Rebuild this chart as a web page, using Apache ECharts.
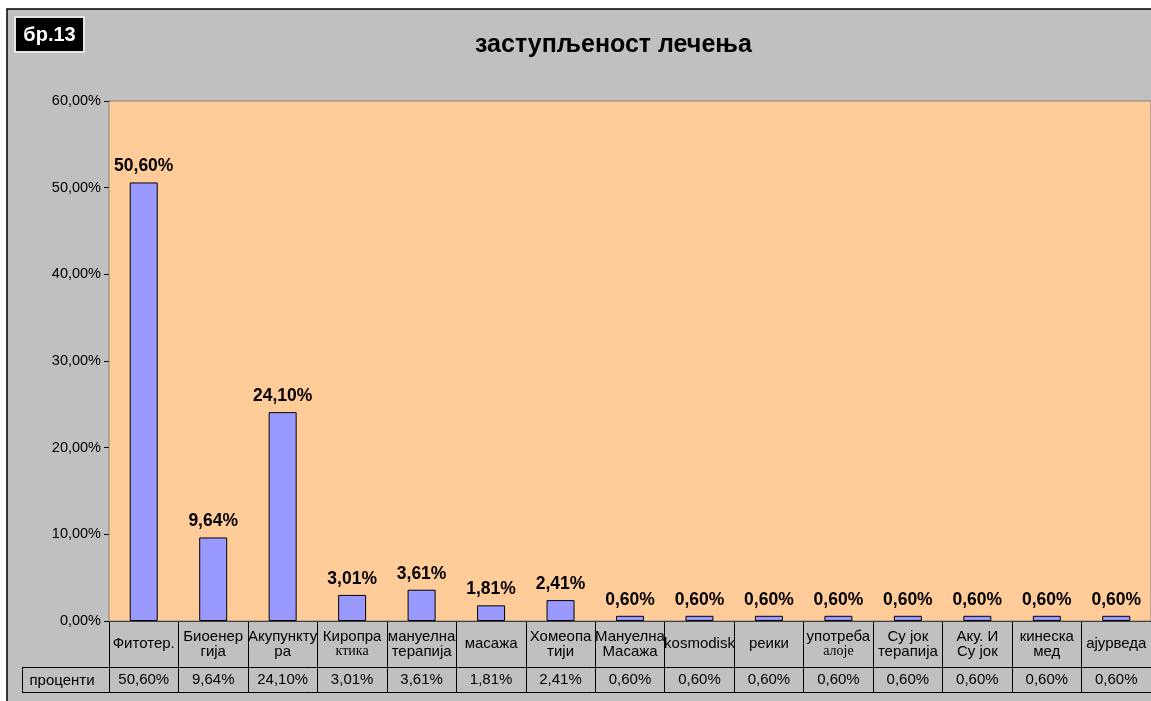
<!DOCTYPE html>
<html>
<head>
<meta charset="utf-8">
<title>заступљеност лечења</title>
<script src="https://cdn.jsdelivr.net/npm/echarts@6/dist/echarts.min.js"></script>
<style>
	body { margin: 0; background: #fff; }
	#main { width: 1151px; height: 701px; }
</style>
</head>
<body>
<div id="main"></div>
<script>
	// podaci
	var categories = ['Фитотер.', 'Биоенер\nгија', 'Акупункту\nра', 'Киропра\nктика', 'мануелна\nтерапија',
		'масажа', 'Хомеопа\nтији', 'Мануелна\nМасажа', 'kosmodisk', 'реики', 'употреба\nалоје',
		'Су јок\nтерапија', 'Аку. И\nСу јок', 'кинеска\nмед', 'ајурведа'];
	var values = [50.60, 9.64, 24.10, 3.01, 3.61, 1.81, 2.41, 0.60, 0.60, 0.60, 0.60, 0.60, 0.60, 0.60, 0.60];
	var rowName = 'проценти';
	// drugi red natpisa je u serifnom fontu
	var serifSecondLine = ['Киропра\nктика', 'употреба\nалоје'];

	var font = '"Liberation Sans", Arial, sans-serif';

	function pct(v) {
		return v.toFixed(2).replace('.', ',') + '%';
	}
	var valueLabels = values.map(pct);

	var myChart = echarts.init(document.getElementById('main'));
	var option = {
		animation: false,
		textStyle: { fontFamily: font },
		title: {
			text: 'заступљеност лечења',
			left: 470,
			top: 28,
			textStyle: { fontFamily: font, fontSize: 25, fontWeight: 'bold', color: '#000' }
		},
		grid: {
			left: 109,
			top: 101,
			width: 1044,
			height: 520,
			show: true,
			backgroundColor: '#FFCC99',
			borderColor: '#808080',
			borderWidth: 1,
			z: 1
		},
		xAxis: [{
			type: 'category',
			data: categories,
			position: 'bottom',
			axisLine: { lineStyle: { color: '#000', width: 1 } },
			axisTick: { show: true, length: 71, lineStyle: { color: '#000', width: 1 } },
			axisLabel: {
				interval: 0,
				margin: 23,
				verticalAlign: 'middle',
				fontSize: 15,
				lineHeight: 15,
				color: '#000',
				fontFamily: font,
				formatter: function (v) {
					if (serifSecondLine.indexOf(v) >= 0) {
						var p = v.split('\n');
						return p[0] + '\n{s|' + p[1] + '}';
					}
					return v;
				},
				rich: {
					s: { fontFamily: '"Liberation Serif", serif', fontSize: 14, lineHeight: 15, color: '#000' }
				}
			}
		}, {
			type: 'category',
			data: valueLabels,
			position: 'bottom',
			offset: 46,
			axisLine: { show: false },
			axisTick: { show: false },
			axisLabel: {
				interval: 0,
				margin: 13,
				verticalAlign: 'middle',
				fontSize: 15,
				color: '#000',
				fontFamily: font
			}
		}],
		yAxis: {
			type: 'value',
			min: 0,
			max: 60,
			interval: 10,
			axisLine: { show: true, lineStyle: { color: '#000' } },
			axisTick: { show: true, length: 5, lineStyle: { color: '#000' } },
			axisLabel: {
				margin: 8,
				fontSize: 14.5,
				color: '#000',
				fontFamily: font,
				formatter: pct
			},
			splitLine: { lineStyle: { color: '#000', width: 1 } }
		},
		series: [{
			type: 'bar',
			data: values,
			barWidth: 28,
			itemStyle: { color: '#9999FF', borderColor: '#000', borderWidth: 1 },
			label: {
				show: true,
				position: 'top',
				distance: 7,
				fontSize: 17.5,
				fontWeight: 'bold',
				color: '#000',
				fontFamily: font,
				formatter: function (p) { return pct(p.value); }
			}
		}],
		graphic: [
			{ type: 'rect', z: -10, shape: { x: 7, y: 9, width: 1150, height: 700 },
				style: { fill: '#C0C0C0', stroke: '#000', lineWidth: 1.5 } },
			{ type: 'rect', shape: { x: 15, y: 17, width: 69, height: 35 },
				style: { fill: '#000', stroke: '#E6E6E6', lineWidth: 2 } },
			{ type: 'text', x: 49.5, y: 35,
				style: { text: 'бр.13', fill: '#fff', font: 'bold 20px ' + font, align: 'center', verticalAlign: 'middle' } },
			{ type: 'line', shape: { x1: 22, y1: 667.5, x2: 1151, y2: 667.5 }, style: { stroke: '#000', lineWidth: 1 } },
			{ type: 'line', shape: { x1: 22, y1: 692.5, x2: 1151, y2: 692.5 }, style: { stroke: '#000', lineWidth: 1 } },
			{ type: 'line', shape: { x1: 22.5, y1: 667, x2: 22.5, y2: 693 }, style: { stroke: '#000', lineWidth: 1 } },
			{ type: 'text', x: 62, y: 681,
				style: { text: rowName, fill: '#000', font: '15px ' + font, align: 'center', verticalAlign: 'middle' } }
		]
	};
	myChart.setOption(option);
</script>
</body>
</html>
